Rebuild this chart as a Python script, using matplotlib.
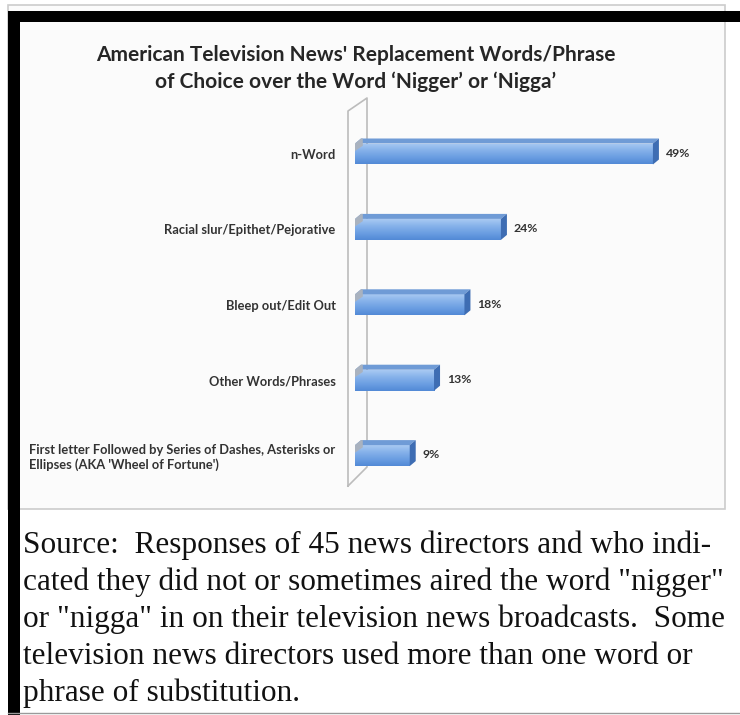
import matplotlib.pyplot as plt
import numpy as np
from matplotlib.colors import LinearSegmentedColormap
from matplotlib.patches import Rectangle, Polygon

# data
categories = [
    "n-Word",
    "Racial slur/Epithet/Pejorative",
    "Bleep out/Edit Out",
    "Other Words/Phrases",
    "First letter Followed by Series of Dashes, Asterisks or\nEllipses (AKA 'Wheel of Fortune')",
]
shares = [49, 24, 18, 13, 9]
title_lines = [
    "American Television News' Replacement Words/Phrase",
    "of Choice over the Word \u2018Nigger\u2019 or \u2018Nigga\u2019",
]
source_lines = [
    "Source:  Responses of 45 news directors and who indi-",
    "cated they did not or sometimes aired the word \"nigger\"",
    "or \"nigga\" in on their television news broadcasts.  Some",
    "television news directors used more than one word or",
    "phrase of substitution.",
]

W, H = 740, 715
fig = plt.figure(figsize=(W / 100, H / 100), dpi=100)
fig.patch.set_facecolor("white")

# background layer in pixel coords
bg = fig.add_axes([0, 0, 1, 1])
bg.set_xlim(0, W)
bg.set_ylim(H, 0)
bg.axis("off")

# chart frame
bg.add_patch(Rectangle((8, 5), 717, 504, facecolor="#fbfbfb",
                       edgecolor="#cccccc", linewidth=1.2))
# black borders
bg.add_patch(Rectangle((8, 11), 732, 11, facecolor="black", edgecolor="none"))
bg.add_patch(Rectangle((8, 11), 12, 704, facecolor="black", edgecolor="none"))
bg.plot([8, 740], [713, 713], color="#9a9a9a", lw=1)

# 3d wall
wall_x = [348, 348, 367, 367, 348]
wall_y = [486, 111, 98, 467, 486]
bg.plot(wall_x, wall_y, color="#bcbcbc", lw=1.2)

for i, line in enumerate(title_lines):
    bg.text(356, 55 + 27 * i, line, ha="center", va="center",
            fontsize=15, fontweight="bold", family="Lato", color="#262626")

for i, line in enumerate(source_lines):
    bg.text(23, 545 + 37 * i, line, ha="left", va="center",
            fontsize=22.5, family="Liberation Serif", color="#111111")

# bar chart axes
x0, px_per = 355, 6.08
xmax = 60
c0, step = 154, 75.4
top_px = c0 - step / 2
bot_px = c0 + step * 4.5
ax = fig.add_axes([x0 / W, 1 - bot_px / H, xmax * px_per / W, (bot_px - top_px) / H])
ax.set_xlim(0, xmax)
ax.set_ylim(len(categories) - 0.5, -0.5)
ax.patch.set_alpha(0)
for s in ax.spines.values():
    s.set_visible(False)
ax.set_xticks([])
ax.set_yticks(range(len(categories)))
ax.set_yticklabels(categories)
ax.tick_params(axis="y", length=0, pad=14)
for t in ax.get_yticklabels():
    t.set_fontsize(9.3)
    t.set_fontweight("bold")
    t.set_family("Lato")
    t.set_color("#333333")
    t.set_multialignment("left")

bar_h = 21 / step
dx = 6 / px_per
dy = 5 / step
grad = LinearSegmentedColormap.from_list(
    "bar", ["#a8c9f2", "#86b2ea", "#6b9ee2", "#5289d6"])
g = np.linspace(0, 1, 64).reshape(-1, 1)

for i, v in enumerate(shares):
    top = i - bar_h / 2
    bot = i + bar_h / 2
    front = Rectangle((0, top), v, bar_h, facecolor="none", edgecolor="none")
    ax.add_patch(front)
    im = ax.imshow(g, extent=[0, v, bot, top], cmap=grad, aspect="auto",
                   interpolation="bilinear", zorder=2)
    im.set_clip_path(front)
    # top face
    ax.add_patch(Polygon([(0, top), (dx, top - dy), (v + dx, top - dy), (v, top)],
                         closed=True, facecolor="#6f9bd6", edgecolor="none", zorder=3))
    # end cap
    ax.add_patch(Polygon([(v, top), (v + dx, top - dy), (v + dx, bot - dy), (v, bot)],
                         closed=True, facecolor="#3e6db3", edgecolor="none", zorder=3))
    # grey piece at the wall
    ax.add_patch(Polygon([(0, top), (dx, top - dy), (dx * 1.3, top - dy),
                          (dx * 1.3, top + 0.03), (0, top + 0.1)],
                         closed=True, facecolor="#a9b2bf", edgecolor="none", zorder=4))
    ax.text(v + dx + 7 / px_per, i - 0.01, f"{v}%", ha="left", va="center",
            fontsize=8.8, fontweight="bold", family="Lato", color="#333333")

plt.savefig("out.png", dpi=100)
